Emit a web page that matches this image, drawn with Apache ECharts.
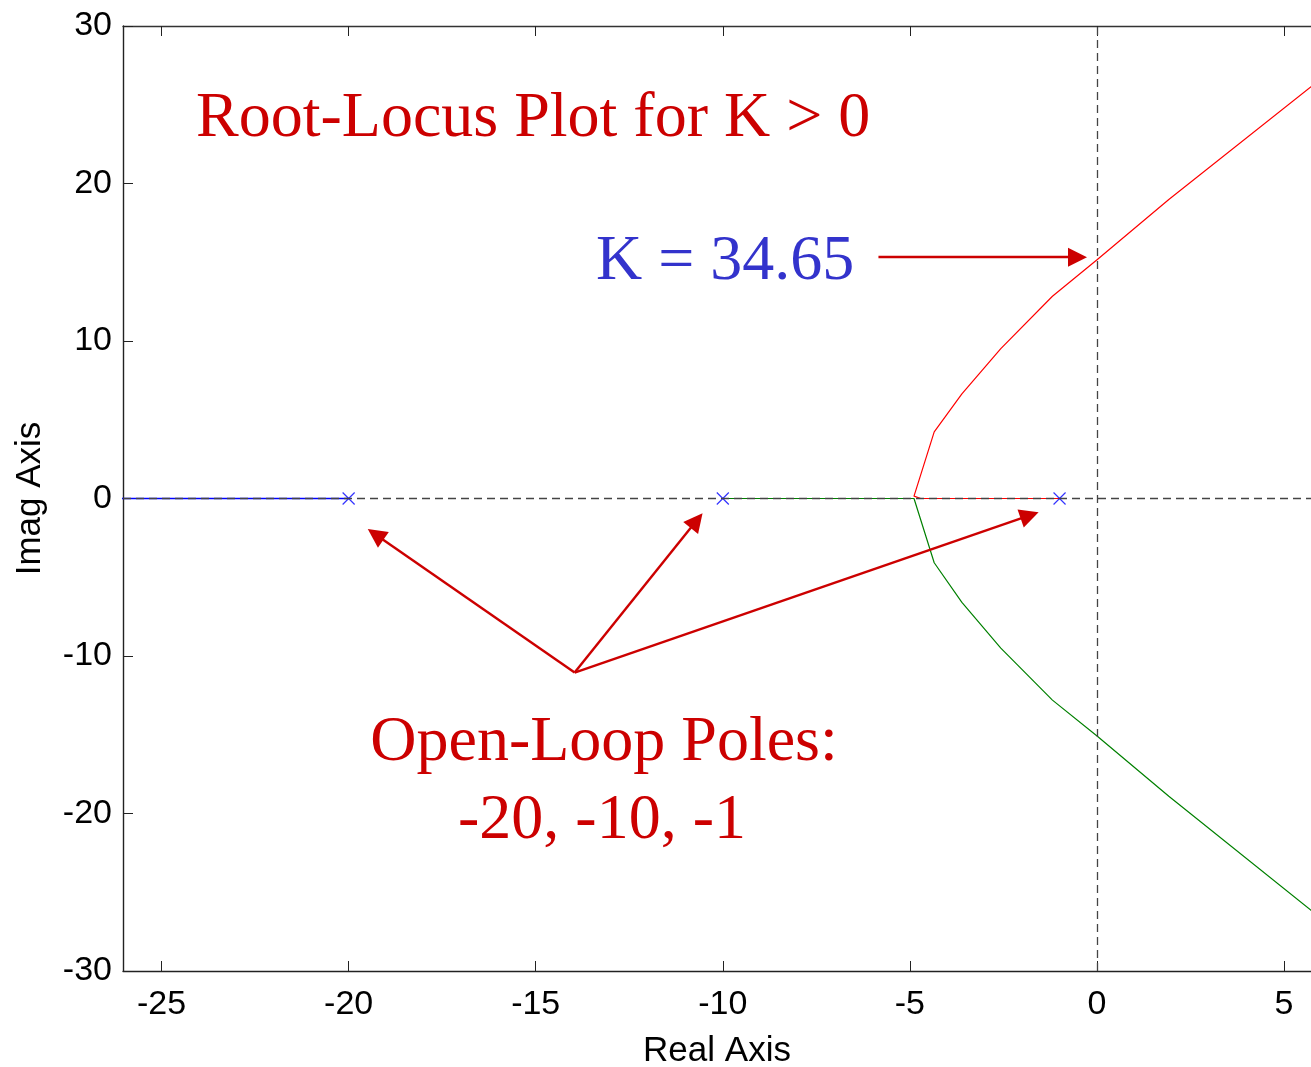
<!DOCTYPE html>
<html><head><meta charset="utf-8">
<script src="https://cdn.jsdelivr.net/npm/echarts@6/dist/echarts.min.js"></script>
<style>html,body{margin:0;padding:0;background:#fff}#c{width:1311px;height:1067px}</style>
</head><body><div id="c"></div>
<script>
// ---- data ----
const xTicks = [-25, -20, -15, -10, -5, 0, 5];
const yTicks = [-30, -20, -10, 0, 10, 20, 30];
const poleRe = [-20, -10, -1];
const poleIm = [0, 0, 0];
const blueRe = [-20, -26.5];
const blueIm = [0, 0];
const redRe = [-1, -4.71, -4.89, -4.35, -3.61, -2.57, -1.19, 0.01, 1.92, 5.80];
const redIm = [0, 0, 0.15, 4.23, 6.64, 9.52, 12.84, 15.17, 18.98, 26.30];
const greenRe = [-10, -4.89, -4.35, -3.61, -2.57, -1.19, 0.01, 1.92, 5.80];
const greenIm = [0, 0, -4.08, -6.60, -9.50, -12.80, -15.10, -18.90, -26.30];
// annotation arrows: [tail, arrow-head centre] in data coordinates
const kArrow = [[-5.84, 15.32], [-0.52, 15.32]];
const poleArrowTail = [-13.96, -11.05];
const poleArrowHeads = [[-19.28, -2.28], [-10.70, -1.40], [-1.80, -1.07]];
const titleText = 'Root-Locus Plot for K > 0';
const kText = 'K = 34.65';
const polesText1 = 'Open-Loop Poles:';
const polesText2 = '-20, -10, -1';

const zip = (a, b) => a.map((v, i) => [v, b[i]]);
const RED = '#cc0000';
const serif = '"Liberation Serif", "Times New Roman", serif';
const sans = '"Liberation Sans", Arial, Helvetica, sans-serif';

const arrowData = [[{coord: kArrow[0]}, {coord: kArrow[1]}]]
  .concat(poleArrowHeads.map(h => [{coord: poleArrowTail}, {coord: h}]));

const chart = echarts.init(document.getElementById('c'), null, {renderer: 'canvas'});
chart.setOption({
  animation: false,
  backgroundColor: '#fff',
  grid: {left: 123, top: 26, right: 0, bottom: 96, containLabel: false, outerBoundsMode: 'none'},
  xAxis: [{
    type: 'value', min: -26.03, max: 5.72,
    name: 'Real Axis', nameLocation: 'middle', nameGap: 63,
    nameTextStyle: {fontFamily: sans, fontSize: 35, color: '#000'},
    axisLine: {show: true, onZero: false, lineStyle: {color: '#222', width: 1.4}},
    axisTick: {show: true, inside: true, length: 10, customValues: xTicks, lineStyle: {color: '#222', width: 1}},
    axisLabel: {show: true, customValues: xTicks, fontFamily: sans, fontSize: 34, color: '#000', margin: 17},
    splitLine: {show: false}
  }, {
    type: 'value', position: 'top', min: -26.03, max: 5.72,
    axisLine: {show: true, onZero: false, lineStyle: {color: '#333', width: 1.4}},
    axisTick: {show: true, inside: true, length: 10, customValues: xTicks, lineStyle: {color: '#222', width: 1}},
    axisLabel: {show: false},
    splitLine: {show: false}
  }],
  yAxis: [{
    type: 'value', min: -30, max: 30, interval: 10,
    name: 'Imag Axis', nameLocation: 'middle', nameGap: 75,
    nameTextStyle: {fontFamily: sans, fontSize: 35, color: '#000'},
    axisLine: {show: true, onZero: false, lineStyle: {color: '#222', width: 1.4}},
    axisTick: {show: true, inside: true, length: 10, lineStyle: {color: '#222', width: 1}},
    axisLabel: {show: true, fontFamily: sans, fontSize: 34, color: '#000', margin: 11},
    splitLine: {show: false}
  }],
  series: [
    {type: 'line', data: zip(blueRe, blueIm), symbol: 'none', lineStyle: {color: '#0000ff', width: 1.3}, z: 2},
    {type: 'line', data: zip(greenRe, greenIm), symbol: 'none', lineStyle: {color: '#008000', width: 1.2}, z: 2},
    {type: 'line', data: zip(redRe, redIm), symbol: 'none', lineStyle: {color: '#ff0000', width: 1.2}, z: 2},
    {type: 'line', data: [], z: 3, silent: true,
      markLine: {silent: true, symbol: ['none', 'none'], label: {show: false},
        lineStyle: {color: '#444', width: 1.3, type: [8, 5]},
        data: [{xAxis: 0}, {yAxis: 0}]}},
    {type: 'scatter', data: zip(poleRe, poleIm), z: 4,
      symbol: 'path://M0,0 L10,10 M10,0 L0,10', symbolSize: 12,
      itemStyle: {color: 'transparent', borderColor: '#0000ff', borderWidth: 1.2}},
    {type: 'line', data: [], z: 5, silent: true,
      markLine: {silent: true, symbol: ['none', 'triangle'], symbolSize: 19,
        label: {show: false}, emphasis: {disabled: true},
        lineStyle: {color: RED, width: 2.4, type: 'solid'},
        itemStyle: {color: RED},
        data: arrowData}}
  ],
  graphic: [
    {type: 'text', x: 196, y: 119, style: {text: titleText, font: '64px ' + serif, fill: RED, align: 'left', verticalAlign: 'middle'}},
    {type: 'text', x: 596, y: 262, style: {text: kText, font: '64px ' + serif, fill: '#3333cc', align: 'left', verticalAlign: 'middle'}},
    {type: 'text', x: 604, y: 743, style: {text: polesText1, font: '64px ' + serif, fill: RED, align: 'center', verticalAlign: 'middle'}},
    {type: 'text', x: 602, y: 821, style: {text: polesText2, font: '64px ' + serif, fill: RED, align: 'center', verticalAlign: 'middle'}}
  ]
});
</script>
</body></html>
